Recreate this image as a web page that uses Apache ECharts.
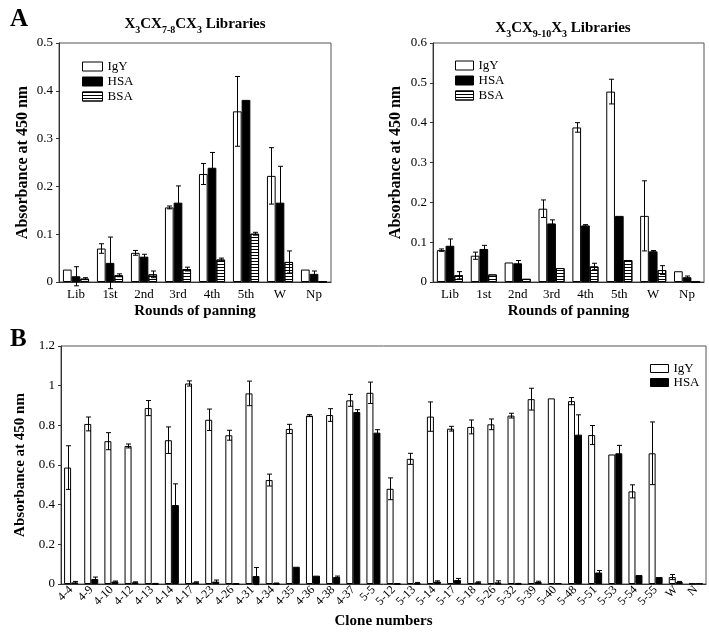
<!DOCTYPE html>
<html>
<head>
<meta charset="utf-8">
<script src="https://cdn.jsdelivr.net/npm/echarts@6/dist/echarts.min.js"></script>
<style>
html,body{margin:0;padding:0;background:#fff;}
#chart{width:709px;height:633px;}
</style>
</head>
<body>
<div id="chart"></div>
<script>
// ---------- data ----------
const rounds = ['Lib', '1st', '2nd', '3rd', '4th', '5th', 'W', 'Np'];

// Panel A left: X3CX7-8CX3 libraries
const igyA    = [0.026, 0.070, 0.061, 0.156, 0.226, 0.357, 0.222, 0.026];
const igyAErr = [0, 0.010, 0.005, 0.003, 0.022, 0.073, 0.059, 0];
const hsaA    = [0.012, 0.040, 0.053, 0.166, 0.239, 0.381, 0.166, 0.017];
const hsaAErr = [0.020, 0.054, 0.005, 0.035, 0.032, 0, 0.076, 0.006];
const bsaA    = [0.007, 0.014, 0.016, 0.027, 0.047, 0.101, 0.042, 0.001];
const bsaAErr = [0.002, 0.003, 0.007, 0.004, 0.003, 0.003, 0.023, 0];

// Panel A right: X3CX9-10X3 libraries
const igyB    = [0.080, 0.066, 0.049, 0.184, 0.388, 0.478, 0.166, 0.027];
const igyBErr = [0.003, 0.009, 0, 0.022, 0.012, 0.031, 0.088, 0];
const hsaB    = [0.091, 0.083, 0.047, 0.147, 0.142, 0.166, 0.077, 0.012];
const hsaBErr = [0.017, 0.009, 0.007, 0.009, 0.002, 0, 0.002, 0.003];
const bsaB    = [0.017, 0.019, 0.008, 0.035, 0.039, 0.055, 0.030, 0];
const bsaBErr = [0.009, 0, 0, 0, 0.008, 0, 0.011, 0];

// Panel B: clones
const clones = ['4-4','4-9','4-10','4-12','4-13','4-14','4-17','4-23','4-26','4-31','4-34','4-35','4-36','4-38','4-37',
                '5-5','5-12','5-13','5-14','5-17','5-18','5-26','5-32','5-39','5-40','5-48','5-51','5-53','5-54','5-55','W','N'];
const igyC    = [0.587, 0.807, 0.720, 0.696, 0.887, 0.725, 1.011, 0.828, 0.750, 0.961, 0.524, 0.782, 0.849, 0.852, 0.926,
                 0.964, 0.480, 0.631, 0.844, 0.783, 0.792, 0.805, 0.849, 0.932, 0.936, 0.922, 0.751, 0.653, 0.467, 0.659, 0.035, 0.002];
const igyCErr = [0.110, 0.035, 0.043, 0.010, 0.038, 0.067, 0.013, 0.054, 0.025, 0.062, 0.030, 0.023, 0.005, 0.032, 0.030,
                 0.054, 0.055, 0.028, 0.074, 0.012, 0.035, 0.027, 0.012, 0.055, 0, 0.018, 0.048, 0, 0.033, 0.158, 0.013, 0];
const hsaC    = [0.008, 0.025, 0.012, 0.008, 0.001, 0.398, 0.008, 0.012, 0.001, 0.040, 0.002, 0.087, 0.042, 0.035, 0.867,
                 0.763, 0.001, 0.004, 0.012, 0.020, 0.008, 0.008, 0.001, 0.010, 0.005, 0.753, 0.058, 0.659, 0.045, 0.035, 0.010, 0.003];
const hsaCErr = [0.005, 0.010, 0.003, 0.003, 0.002, 0.107, 0.003, 0.008, 0.001, 0.043, 0.003, 0, 0, 0.005, 0.012,
                 0.015, 0.001, 0.004, 0.004, 0.008, 0.003, 0.008, 0.002, 0.004, 0, 0.100, 0.010, 0.040, 0, 0, 0.003, 0];

const yTicksA = [0, 0.5, 0.1];
const yTicksB = [0, 0.6, 0.1];
const yTicksC = [0, 1.2, 0.2];

// ---------- styling ----------
const FONT = '"Liberation Serif", "Times New Roman", serif';
const BWA = 8.7, BWC = 7;

const styles = {
  IgY: { color: '#fff', borderColor: '#000', borderWidth: 1 },
  HSA: { color: '#000', borderColor: '#000', borderWidth: 1 },
  BSA: { color: '#fff', borderColor: '#000', borderWidth: 1,
         decal: { symbol: 'rect', symbolSize: 1, dashArrayX: [1, 0], dashArrayY: [1, 2], rotation: 0, color: '#000' } }
};

function bar(name, g, data, bw) {
  return { type: 'bar', name: name, xAxisIndex: g, yAxisIndex: g, data: data,
           barWidth: bw, barGap: 0, itemStyle: styles[name], silent: true, z: 2 };
}
function err(g, vals, errs, idx, n, bw) {
  return {
    type: 'custom', xAxisIndex: g, yAxisIndex: g, silent: true, z: 5, clip: false,
    encode: { x: 0, y: 1 },
    data: vals.map((v, i) => [i, v, errs[i]]),
    renderItem: function (params, api) {
      const i = api.value(0), v = api.value(1), e = api.value(2);
      if (!e) return { type: 'group', children: [] };
      const off = (idx - (n - 1) / 2) * bw;
      const t = api.coord([i, v + e]), b = api.coord([i, v - e]);
      const x = Math.round(t[0] + off) + 0.5, cap = 2.5;
      const st = { stroke: '#000', lineWidth: 1 };
      return { type: 'group', children: [
        { type: 'line', shape: { x1: x, y1: t[1], x2: x, y2: b[1] }, style: st },
        { type: 'line', shape: { x1: x - cap, y1: t[1], x2: x + cap, y2: t[1] }, style: st },
        { type: 'line', shape: { x1: x - cap, y1: b[1], x2: x + cap, y2: b[1] }, style: st }
      ]};
    }
  };
}

function yAxis(g, t, nameGap, nameSize) {
  return {
    type: 'value', gridIndex: g, min: t[0], max: t[1], interval: t[2],
    name: 'Absorbance at 450 nm', nameLocation: 'middle', nameGap: nameGap, nameRotate: 90,
    nameTextStyle: { fontFamily: FONT, fontWeight: 'bold', fontSize: nameSize, color: '#000' },
    axisLine: { show: true, lineStyle: { color: '#333' } },
    axisTick: { show: true, length: 3, lineStyle: { color: '#333' } },
    axisLabel: { fontFamily: FONT, fontSize: 13, color: '#000', margin: 6 },
    splitLine: { show: false }
  };
}
function xAxis(g, cats, name, nameGap, rot) {
  return {
    type: 'category', gridIndex: g, data: cats,
    name: name, nameLocation: 'middle', nameGap: nameGap,
    nameTextStyle: { fontFamily: FONT, fontWeight: 'bold', fontSize: 15, color: '#000' },
    axisLine: { show: true, lineStyle: { color: '#333' } },
    axisTick: { show: false },
    axisLabel: { fontFamily: FONT, fontSize: rot ? 12 : 13, color: '#000', interval: 0, rotate: rot || 0, margin: rot ? 4 : 6 },
    splitLine: { show: false }
  };
}

const titleRich = {
  a: { fontFamily: FONT, fontWeight: 'bold', fontSize: 15, color: '#000', lineHeight: 20, verticalAlign: 'bottom', padding: [0, 0, 3, 0] },
  s: { fontFamily: FONT, fontWeight: 'bold', fontSize: 10, color: '#000', lineHeight: 20, verticalAlign: 'bottom' }
};

const legendCommon = {
  orient: 'vertical', icon: 'rect', itemGap: 2, selectedMode: false,
  itemStyle: { borderWidth: 1 },
  textStyle: { fontFamily: FONT, fontSize: 13, color: '#000' }
};

const option = {
  animation: false,
  backgroundColor: '#fff',
  title: [
    { text: 'A', left: 5, top: 2, textStyle: { fontFamily: FONT, fontWeight: 'bold', fontSize: 25, color: '#000' } },
    { text: 'B', left: 5, top: 322, textStyle: { fontFamily: FONT, fontWeight: 'bold', fontSize: 25, color: '#000' } },
    { text: '{a|X}{s|3}{a|CX}{s|7-8}{a|CX}{s|3}{a| Libraries}', left: 190, top: 10, textAlign: 'center',
      textStyle: { rich: titleRich } },
    { text: '{a|X}{s|3}{a|CX}{s|9-10}{a|X}{s|3}{a| Libraries}', left: 558, top: 14, textAlign: 'center',
      textStyle: { rich: titleRich } }
  ],
  legend: [
    Object.assign({}, legendCommon, { left: 77, top: 55, itemWidth: 20, itemHeight: 9, data: ['IgY', 'HSA', 'BSA'] }),
    Object.assign({}, legendCommon, { left: 450, top: 54, itemWidth: 18, itemHeight: 9, data: ['IgY', 'HSA', 'BSA'] }),
    Object.assign({}, legendCommon, { left: 645, top: 357, itemWidth: 18, itemHeight: 8, itemGap: 1, data: ['IgY', 'HSA'] })
  ],
  grid: [
    { left: 59, right: 709 - 331, top: 43, height: 239, show: true, borderColor: '#555', borderWidth: 1, containLabel: false },
    { left: 433, right: 709 - 704, top: 43, height: 239, show: true, borderColor: '#555', borderWidth: 1, containLabel: false },
    { left: 61, right: 709 - 706, top: 346, height: 238, show: true, borderColor: '#555', borderWidth: 1, containLabel: false }
  ],
  xAxis: [
    xAxis(0, rounds, 'Rounds of panning', 22),
    xAxis(1, rounds, 'Rounds of panning', 22),
    xAxis(2, clones, 'Clone numbers', 30, 45)
  ],
  yAxis: [ yAxis(0, yTicksA, 28, 16), yAxis(1, yTicksB, 29, 16), yAxis(2, yTicksC, 33, 15) ],
  series: [
    bar('IgY', 0, igyA, BWA), bar('HSA', 0, hsaA, BWA), bar('BSA', 0, bsaA, BWA),
    err(0, igyA, igyAErr, 0, 3, BWA), err(0, hsaA, hsaAErr, 1, 3, BWA), err(0, bsaA, bsaAErr, 2, 3, BWA),
    bar('IgY', 1, igyB, BWA), bar('HSA', 1, hsaB, BWA), bar('BSA', 1, bsaB, BWA),
    err(1, igyB, igyBErr, 0, 3, BWA), err(1, hsaB, hsaBErr, 1, 3, BWA), err(1, bsaB, bsaBErr, 2, 3, BWA),
    bar('IgY', 2, igyC, BWC), bar('HSA', 2, hsaC, BWC),
    err(2, igyC, igyCErr, 0, 2, BWC), err(2, hsaC, hsaCErr, 1, 2, BWC)
  ]
};

const chart = echarts.init(document.getElementById('chart'), null, { renderer: 'canvas' });
chart.setOption(option);
</script>
</body>
</html>
